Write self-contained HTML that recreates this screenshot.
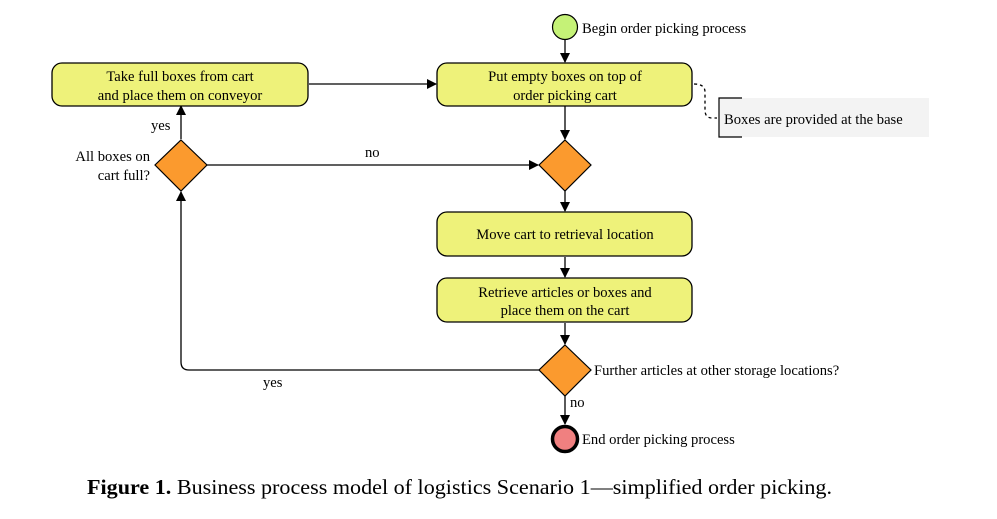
<!DOCTYPE html>
<html><head><meta charset="utf-8"><style>
body{margin:0;background:#fff;}
svg{display:block;font-family:"Liberation Serif",serif;}
</style></head><body>
<svg width="997" height="519" viewBox="0 0 997 519" xmlns="http://www.w3.org/2000/svg">
<defs><marker id="a" markerWidth="10" markerHeight="10" refX="9" refY="5" orient="auto" markerUnits="userSpaceOnUse"><path d="M0,0 L10,5 L0,10 z" fill="#000"/></marker></defs>
<g stroke="#000" stroke-width="1.3" fill="none">
<line x1="565" y1="40" x2="565" y2="62" marker-end="url(#a)"/>
<line x1="565" y1="106" x2="565" y2="139" marker-end="url(#a)"/>
<line x1="309" y1="84" x2="436" y2="84" marker-end="url(#a)"/>
<line x1="207" y1="165" x2="538" y2="165" marker-end="url(#a)"/>
<line x1="181" y1="139" x2="181" y2="106" marker-end="url(#a)"/>
<line x1="565" y1="191" x2="565" y2="211" marker-end="url(#a)"/>
<line x1="565" y1="257" x2="565" y2="277" marker-end="url(#a)"/>
<line x1="565" y1="323" x2="565" y2="344" marker-end="url(#a)"/>
<line x1="565" y1="396" x2="565" y2="424" marker-end="url(#a)"/>
<path d="M539,370 H189 Q181,370 181,362 V192" marker-end="url(#a)"/>
<path d="M694,84 Q705,84 705,92 V110 Q705,118 712,118 H717" stroke-dasharray="3,3"/>
</g>
<rect x="719" y="98" width="210" height="39" fill="#f3f3f3"/>
<path d="M742,98 H719 V137 H742" stroke="#000" stroke-width="1.2" fill="none"/>
<circle cx="565" cy="27" r="12.5" fill="#c5f277" stroke="#000" stroke-width="1.2"/>
<g fill="#eef27a" stroke="#000" stroke-width="1.3">
<rect x="437" y="63" width="255" height="43" rx="10"/>
<rect x="52" y="63" width="256" height="43" rx="10"/>
<rect x="437" y="212" width="255" height="44" rx="10"/>
<rect x="437" y="278" width="255" height="44" rx="10"/>
</g>
<g fill="#fb9a2e" stroke="#000" stroke-width="1.2">
<path d="M565,140 L591,165 L565,191 L539,165 z"/>
<path d="M181,140 L207,165 L181,191 L155,165 z"/>
<path d="M565,345 L591,370 L565,396 L539,370 z"/>
</g>
<circle cx="565" cy="439" r="12.5" fill="#f08080" stroke="#000" stroke-width="3.5"/>
<g font-size="14.6" fill="#000">
<text x="582" y="33">Begin order picking process</text>
<text x="565" y="81" text-anchor="middle">Put empty boxes on top of</text>
<text x="565" y="100" text-anchor="middle">order picking cart</text>
<text x="180" y="81" text-anchor="middle">Take full boxes from cart</text>
<text x="180" y="100" text-anchor="middle">and place them on conveyor</text>
<text x="724" y="124">Boxes are provided at the base</text>
<text x="565" y="239" text-anchor="middle">Move cart to retrieval location</text>
<text x="565" y="297" text-anchor="middle">Retrieve articles or boxes and</text>
<text x="565" y="315" text-anchor="middle">place them on the cart</text>
<text x="151" y="130">yes</text>
<text x="150" y="161" text-anchor="end">All boxes on</text>
<text x="150" y="180" text-anchor="end">cart full?</text>
<text x="365" y="157">no</text>
<text x="594" y="375">Further articles at other storage locations?</text>
<text x="263" y="387">yes</text>
<text x="570" y="407">no</text>
<text x="582" y="444">End order picking process</text>
</g>
<text x="87" y="494" font-size="21" textLength="745" lengthAdjust="spacingAndGlyphs"><tspan font-weight="bold">Figure 1.</tspan> Business process model of logistics Scenario 1—simplified order picking.</text>
</svg>
</body></html>
